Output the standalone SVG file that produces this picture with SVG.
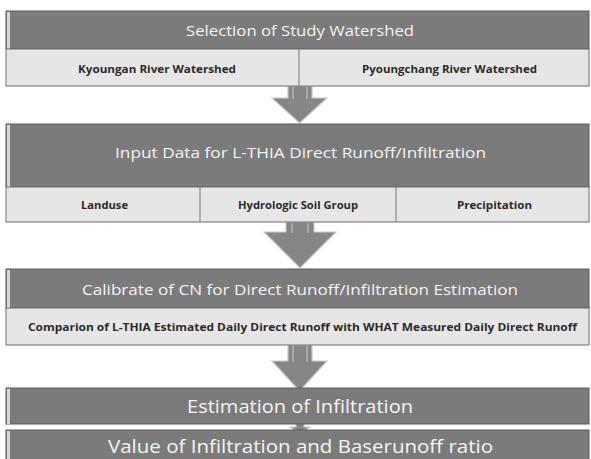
<svg xmlns="http://www.w3.org/2000/svg" width="591" height="459" viewBox="0 0 591 459">
<style>
.hdr{fill:#7b7b7b;stroke:#5e5e5e;stroke-width:1}
.sub{fill:#e6e6e6;stroke:#6e6e6e;stroke-width:1}
.bev{fill:#d8d8d8}
.ht{font-family:"Open Sans","Noto Sans",sans-serif;fill:#f4f4f4;text-anchor:middle}
.st{font-family:"Open Sans","Noto Sans",sans-serif;font-weight:bold;fill:#2a2a2a;text-anchor:middle;font-size:11px}
.arr{fill:#868686;stroke:#c9c9c9;stroke-width:1.2}
.div{stroke:#8a8a8a;stroke-width:1.2}
</style>
<rect width="591" height="459" fill="#ffffff"/>
<g id="connectors">
<polygon class="arr" points="288,86 312,86 312,98 327,98 299.5,123 272,98 288,98"/>
<line x1="293" y1="86" x2="293" y2="99" stroke="#c9c9c9"/><line x1="307" y1="86" x2="307" y2="99" stroke="#c9c9c9"/>
<polygon class="arr" points="286,222 314,222 314,232 336,232 300,268 264,232 286,232"/>
<line x1="292" y1="222" x2="292" y2="233" stroke="#c9c9c9"/><line x1="308" y1="222" x2="308" y2="233" stroke="#c9c9c9"/>
<polygon class="arr" points="288,345 312,345 312,361 327,361 299.5,391 272,361 288,361"/>
<line x1="293" y1="345" x2="293" y2="362" stroke="#c9c9c9"/><line x1="307" y1="345" x2="307" y2="362" stroke="#c9c9c9"/>
<polygon class="arr" points="296,422 304,422 304,427 310,427 300,434 290,427 296,427" stroke-width="0.8"/>
</g>
<g id="node1">
<rect class="hdr" x="6" y="11" width="583" height="38"/>
<rect class="bev" x="7" y="12" width="3" height="37"/>
<text class="ht" x="300" y="35.5" font-size="15" textLength="228" lengthAdjust="spacingAndGlyphs">Selection of Study Watershed</text>
<rect class="sub" x="6" y="49" width="583" height="37"/>
<line class="div" x1="299" y1="49" x2="299" y2="86"/>
<text class="st" x="157" y="73" textLength="158" lengthAdjust="spacingAndGlyphs">Kyoungan River Watershed</text>
<text class="st" x="449.5" y="73" textLength="175" lengthAdjust="spacingAndGlyphs">Pyoungchang River Watershed</text>
</g>
<g id="node2">
<rect class="hdr" x="6" y="124" width="583" height="63"/>
<rect class="bev" x="7" y="125" width="3" height="62"/>
<text class="ht" x="300.5" y="158" font-size="15" textLength="371" lengthAdjust="spacingAndGlyphs">Input Data for L-THIA Direct Runoff/Infiltration</text>
<rect class="sub" x="6" y="187" width="583" height="35"/>
<line class="div" x1="200" y1="187" x2="200" y2="222"/>
<line class="div" x1="396" y1="187" x2="396" y2="222"/>
<text class="st" x="104.5" y="209" textLength="47" lengthAdjust="spacingAndGlyphs">Landuse</text>
<text class="st" x="298" y="209" textLength="120" lengthAdjust="spacingAndGlyphs">Hydrologic Soil Group</text>
<text class="st" x="494.5" y="209" textLength="75" lengthAdjust="spacingAndGlyphs">Precipitation</text>
</g>
<g id="node3">
<rect class="hdr" x="6" y="269" width="583" height="39"/>
<rect class="bev" x="7" y="270" width="3" height="38"/>
<text class="ht" x="300" y="295" font-size="15" textLength="436" lengthAdjust="spacingAndGlyphs">Calibrate of CN for Direct Runoff/Infiltration Estimation</text>
<rect class="sub" x="6" y="308" width="583" height="37"/>
<text class="st" x="302.5" y="330.5" textLength="549" lengthAdjust="spacingAndGlyphs">Comparion of L-THIA Estimated Daily Direct Runoff with WHAT Measured Daily Direct Runoff</text>
</g>
<g id="node4">
<rect class="hdr" x="6" y="388" width="583" height="36"/>
<rect class="bev" x="7" y="389" width="3" height="35"/>
<text class="ht" x="300" y="413" font-size="18" textLength="226" lengthAdjust="spacingAndGlyphs">Estimation of Infiltration</text>
</g>
<g id="node5">
<rect class="hdr" x="6" y="430" width="583" height="35"/>
<rect class="bev" x="7" y="431" width="3" height="34"/>
<text class="ht" x="300.5" y="453" font-size="19" textLength="385" lengthAdjust="spacingAndGlyphs">Value of Infiltration and Baserunoff ratio</text>
</g>
</svg>
